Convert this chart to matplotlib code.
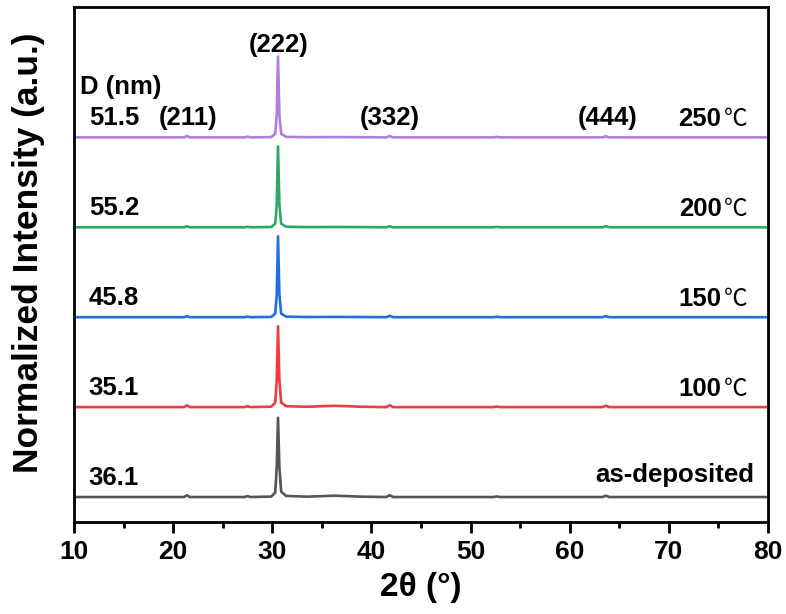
import matplotlib
matplotlib.use('Agg')
import matplotlib.pyplot as plt
from matplotlib.ticker import MultipleLocator

# 2theta key points shared by all patterns
two_theta = [10, 21.1, 21.4, 21.7, 27.2, 27.5, 27.8, 29.9, 30.3, 30.45, 30.58, 30.72,
             30.9, 31.4, 33.5, 36.3, 39.0, 41.5, 41.85, 42.2, 52.3, 52.65, 53.0,
             63.3, 63.65, 64.0, 80]

# normalized intensities (before vertical offset)
as_dep = [0, 0, 0.02, 0, 0, 0.01, 0, 0.005, 0.05, 0.33, 0.88, 0.33, 0.06, 0.012,
          0.004, 0.015, 0.004, 0, 0.02, 0, 0, 0.006, 0, 0, 0.015, 0, 0]
t100 = [0, 0, 0.02, 0, 0, 0.01, 0, 0.005, 0.05, 0.3, 0.9, 0.3, 0.05, 0.01,
        0.004, 0.015, 0.004, 0, 0.02, 0, 0, 0.006, 0, 0, 0.015, 0, 0]
t150 = [0, 0, 0.012, 0, 0, 0.006, 0, 0.003, 0.04, 0.25, 0.9, 0.25, 0.04, 0.006,
        0.002, 0.003, 0.002, 0, 0.015, 0, 0, 0.005, 0, 0, 0.012, 0, 0]
t200 = [0, 0, 0.012, 0, 0, 0.006, 0, 0.003, 0.04, 0.25, 0.9, 0.25, 0.04, 0.006,
        0.002, 0.003, 0.002, 0, 0.012, 0, 0, 0.005, 0, 0, 0.012, 0, 0]
t250 = [0, 0, 0.015, 0, 0, 0.008, 0, 0.003, 0.04, 0.25, 0.9, 0.25, 0.04, 0.006,
        0.002, 0.003, 0.002, 0, 0.015, 0, 0, 0.005, 0, 0, 0.012, 0, 0]

patterns = [as_dep, t100, t150, t200, t250]
offsets = [0, 1, 2, 3, 4]
colors = ['#555555', '#f03c3c', '#1f6fe0', '#2ea866', '#b07ee0']
temp_labels = ['', '100', '150', '200', '250']
grain_sizes = ['36.1', '35.1', '45.8', '55.2', '51.5']

hkl_labels = ['(211)', '(222)', '(332)', '(444)']
hkl_pos = [21.5, 30.6, 41.9, 63.8]

plt.rcParams['font.family'] = ['Liberation Sans', 'DejaVu Sans']

fig = plt.figure(figsize=(7.86, 6.14), dpi=100)
ax = fig.add_axes([0.0941, 0.1498, 0.8830, 0.8388])

for y, off, c in zip(patterns, offsets, colors):
    ax.plot(two_theta, [v + off for v in y], color=c, lw=1.9)

ax.set_xlim(10, 80)
ax.set_ylim(-0.278, 5.45)

ax.xaxis.set_major_locator(MultipleLocator(10))
ax.xaxis.set_minor_locator(MultipleLocator(5))
ax.set_yticks([])
ax.tick_params(axis='x', which='major', direction='out', length=8, width=2, pad=5,
               labelsize=19)
ax.tick_params(axis='x', which='minor', direction='out', length=4.5, width=2)
for lab in ax.get_xticklabels():
    lab.set_fontweight('bold')
for s in ax.spines.values():
    s.set_linewidth(2)

ax.set_xlabel('2θ (°)', fontweight='bold', fontsize=24, labelpad=6)
ax.set_ylabel('Normalized Intensity (a.u.)', fontweight='bold', fontsize=25.5)
ax.yaxis.set_label_coords(-0.042, 0.522)

fs = 18.5
# grain sizes on the left
ax.text(10.6, 4.56, 'D (nm)', fontsize=fs, fontweight='bold', va='center', ha='left')
for off, d in zip(offsets, grain_sizes):
    ax.text(11.5, off + 0.21, d, fontsize=fs, fontweight='bold', va='center', ha='left')

# temperature labels on the right
for off, t in zip(offsets, temp_labels):
    if t == '':
        ax.text(78.6, off + 0.24, 'as-deposited', fontsize=fs, fontweight='bold',
                va='center', ha='right')
    else:
        ax.text(75.3, off + 0.2, t, fontsize=fs, fontweight='bold', va='center', ha='right')
        ax.text(75.5, off + 0.2, '℃', fontsize=17, va='center', ha='left',
                family=['Noto Sans CJK SC', 'DejaVu Sans'])

# reflection indices
for h, p in zip(hkl_labels, hkl_pos):
    yy = 5.03 if h == '(222)' else 4.22
    ax.text(p, yy, h, fontsize=fs, fontweight='bold', va='center', ha='center')

fig.savefig('out.png', dpi=100)
